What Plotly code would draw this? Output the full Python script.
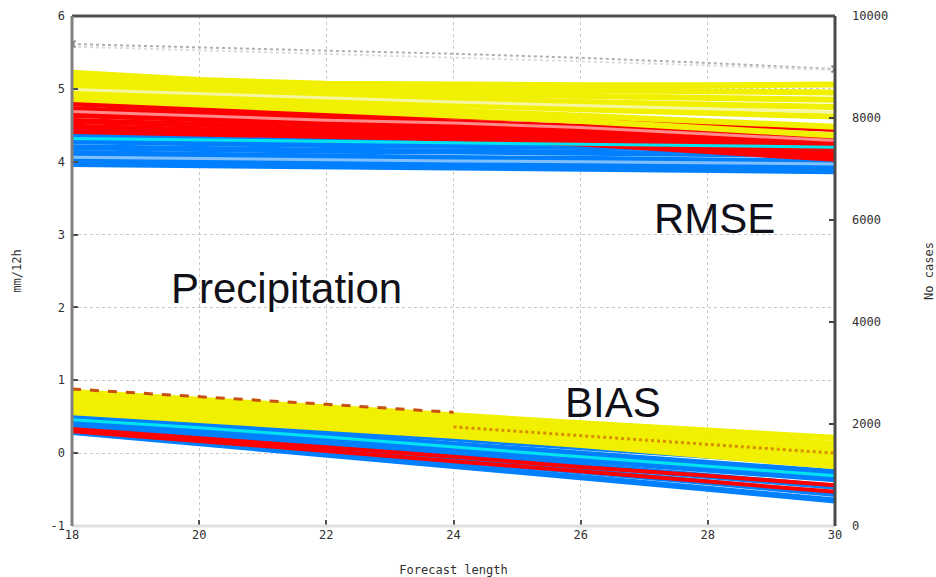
import plotly.graph_objects as go

# Forecast lengths (hours)
lead = [18, 20, 22, 24, 26, 28, 30]

# RMSE members (mm/12h)
rmse_yellow = {
    "y1": [5.22, 5.12, 5.07, 5.05, 5.05, 5.05, 5.06],
    "y2": [5.15, 5.08, 5.03, 5.00, 4.98, 4.96, 4.95],
    "y3": [5.08, 5.02, 4.97, 4.93, 4.90, 4.87, 4.85],
    "y4": [5.02, 4.96, 4.90, 4.86, 4.82, 4.78, 4.75],
    "y5": [4.95, 4.90, 4.84, 4.78, 4.72, 4.66, 4.62],
    "y6": [4.90, 4.84, 4.77, 4.70, 4.63, 4.55, 4.48],
    "y7": [4.86, 4.79, 4.72, 4.64, 4.56, 4.46, 4.36],
}
rmse_red = {
    "r1": [4.80, 4.72, 4.66, 4.62, 4.58, 4.52, 4.45],
    "r2": [4.72, 4.66, 4.60, 4.56, 4.50, 4.42, 4.34],
    "r3": [4.64, 4.58, 4.53, 4.48, 4.42, 4.33, 4.25],
    "r4": [4.56, 4.51, 4.46, 4.42, 4.36, 4.27, 4.18],
    "r5": [4.48, 4.44, 4.40, 4.36, 4.30, 4.20, 4.10],
    "r6": [4.42, 4.38, 4.35, 4.32, 4.25, 4.15, 4.04],
}
rmse_blue = {
    "b1": [4.36, 4.33, 4.31, 4.30, 4.29, 4.28, 4.26],
    "b2": [4.28, 4.25, 4.23, 4.22, 4.21, 4.19, 4.17],
    "b3": [4.20, 4.17, 4.15, 4.14, 4.13, 4.11, 4.09],
    "b4": [4.12, 4.09, 4.07, 4.05, 4.04, 4.02, 4.00],
    "b5": [4.04, 4.01, 3.99, 3.97, 3.95, 3.93, 3.92],
    "b6": [3.97, 3.95, 3.93, 3.91, 3.90, 3.88, 3.87],
}
rmse_accent = {
    "cyan": ([4.32, 4.30, 4.28, 4.26, 4.24, 4.22, 4.20], "#00e4f0"),
    "lightblue": ([4.06, 4.04, 4.03, 4.01, 4.00, 3.99, 3.97], "#80c0ff"),
    "pink": ([4.69, 4.63, 4.57, 4.53, 4.47, 4.38, 4.29], "#ff8a8a"),
    "paleyellow": ([4.99, 4.93, 4.87, 4.82, 4.77, 4.72, 4.68], "#f6f6a0"),
}

# BIAS members (mm/12h)
bias_yellow = {
    "y1": [0.84, 0.74, 0.63, 0.52, 0.41, 0.31, 0.21],
    "y2": [0.78, 0.68, 0.57, 0.46, 0.35, 0.24, 0.13],
    "y3": [0.72, 0.62, 0.51, 0.40, 0.28, 0.17, 0.05],
    "y4": [0.66, 0.56, 0.45, 0.34, 0.22, 0.10, -0.03],
    "y5": [0.60, 0.51, 0.40, 0.29, 0.16, 0.03, -0.11],
    "y6": [0.56, 0.46, 0.35, 0.24, 0.11, -0.03, -0.18],
}
bias_blue = {
    "b1": [0.55, 0.44, 0.32, 0.20, 0.08, -0.04, -0.15],
    "b2": [0.49, 0.38, 0.25, 0.12, -0.01, -0.13, -0.26],
    "b3": [0.43, 0.31, 0.18, 0.04, -0.09, -0.22, -0.36],
    "b4": [0.38, 0.25, 0.11, -0.03, -0.17, -0.31, -0.46],
    "b5": [0.33, 0.19, 0.04, -0.10, -0.25, -0.40, -0.56],
    "b6": [0.29, 0.14, -0.02, -0.17, -0.33, -0.49, -0.65],
}
bias_red = {
    "r1": [0.33, 0.21, 0.08, -0.05, -0.19, -0.31, -0.44],
    "r2": [0.30, 0.17, 0.03, -0.11, -0.25, -0.38, -0.53],
}
bias_brown = [0.88, 0.78, 0.67, 0.56, None, None, None]
bias_orange = [None, None, None, 0.36, 0.24, 0.12, 0.00]
bias_cyan = [0.46, 0.35, 0.22, 0.08, -0.05, -0.18, -0.31]

# Number of cases (right axis)
cases_a = [9450, 9380, 9320, 9260, 9180, 9080, 8960]
cases_b = [9400, 9330, 9260, 9190, 9110, 9030, 8940]

left_ticks = [-1, 0, 1, 2, 3, 4, 5, 6]
right_ticks = [0, 2000, 4000, 6000, 8000, 10000]
x_ticks = [18, 20, 22, 24, 26, 28, 30]

fig = go.Figure()


def add(vals, color, width=6, dash="solid", yaxis="y"):
    fig.add_trace(go.Scatter(x=lead, y=vals, mode="lines", yaxis=yaxis,
                             line=dict(color=color, width=width, dash=dash),
                             showlegend=False, hoverinfo="skip"))


# cases
add(cases_a, "#b0b0b0", width=2, dash="dot", yaxis="y2")
add(cases_b, "#dcdcdc", width=2, dash="dot", yaxis="y2")
fig.add_trace(go.Scatter(x=[lead[0], lead[-1]], y=[cases_a[0], cases_a[-1]],
                         mode="markers", yaxis="y2",
                         marker=dict(symbol="x-thin", size=7,
                                     line=dict(color="#909090", width=2)),
                         showlegend=False, hoverinfo="skip"))

# RMSE
for v in rmse_blue.values():
    add(v, "#0080ff")
for v in rmse_red.values():
    add(v, "#ff0000")
for v in rmse_yellow.values():
    add(v, "#f0f000")
for k, (v, c) in rmse_accent.items():
    add(v, c, width=3)

# BIAS
for v in bias_blue.values():
    add(v, "#0080ff")
add(bias_cyan, "#00e4f0", width=3)
for v in bias_red.values():
    add(v, "#ff0000", width=4)
for v in bias_yellow.values():
    add(v, "#f0f000")
add(bias_brown, "#c85010", width=3, dash="dash")
add(bias_orange, "#d89000", width=3, dash="dot")

tickfont = dict(family="DejaVu Sans Mono", size=12, color="#303030")

fig.update_layout(
    width=936, height=577,
    margin=dict(l=72, r=101, t=16, b=51),
    paper_bgcolor="white", plot_bgcolor="white",
    xaxis=dict(range=[18, 30], tickvals=x_ticks, ticktext=[str(t) for t in x_ticks],
               showgrid=True, gridcolor="#c8c8c8", griddash="dot", gridwidth=1,
               zeroline=False, showline=False, ticks="inside", ticklen=6,
               tickcolor="#505050", tickwidth=2, tickfont=tickfont, automargin=False,
               title=dict(text="Forecast length", font=tickfont, standoff=24)),
    yaxis=dict(range=[-1, 6], tickvals=left_ticks, ticktext=[str(t) for t in left_ticks],
               showgrid=True, gridcolor="#c8c8c8", griddash="dot", gridwidth=1,
               zeroline=False, showline=False, ticks="inside", ticklen=6,
               tickcolor="#505050", tickwidth=2, tickfont=tickfont, automargin=False,
               ticklabelstandoff=6,
               title=dict(text="mm/12h", font=tickfont, standoff=26)),
    yaxis2=dict(range=[0, 10000], tickvals=right_ticks,
                ticktext=[str(t) for t in right_ticks],
                overlaying="y", side="right", showgrid=False, zeroline=False,
                showline=False, ticks="inside", ticklen=6, tickcolor="#404040",
                tickwidth=2, tickfont=tickfont, ticklabelstandoff=16, automargin=False,
                title=dict(text="No cases", font=tickfont, standoff=40)),
    annotations=[
        dict(x=28.11, y=3.22, xref="x", yref="y", text="RMSE", showarrow=False,
             font=dict(family="Liberation Sans", size=42, color="#101018")),
        dict(x=21.38, y=2.26, xref="x", yref="y", text="Precipitation", showarrow=False,
             font=dict(family="Liberation Sans", size=42, color="#101018")),
        dict(x=26.51, y=0.69, xref="x", yref="y", text="BIAS", showarrow=False,
             font=dict(family="Liberation Sans", size=42, color="#101018")),
    ],
    shapes=[
        dict(type="line", xref="paper", yref="paper", x0=0, x1=1, y0=1, y1=1,
             line=dict(color="#505050", width=3)),
        dict(type="line", xref="paper", yref="paper", x0=0, x1=1, y0=0, y1=0,
             line=dict(color="#e0e0e0", width=3)),
        dict(type="line", xref="paper", yref="paper", x0=0, x1=0, y0=0, y1=1,
             line=dict(color="#808080", width=3)),
        dict(type="line", xref="paper", yref="paper", x0=1, x1=1, y0=0, y1=1,
             line=dict(color="#4a4a4a", width=3)),
    ],
)

fig.write_html("out.html")
